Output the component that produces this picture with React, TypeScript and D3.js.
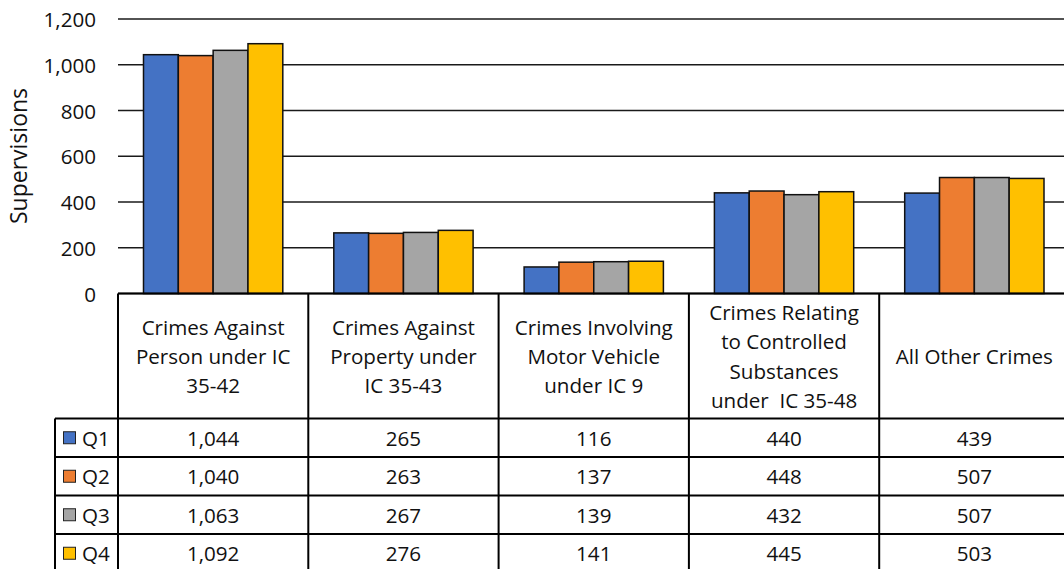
import React from "react";
import * as d3 from "d3";

const categories: string[][] = [
  ["Crimes Against", "Person under IC", "35-42"],
  ["Crimes Against", "Property under", "IC 35-43"],
  ["Crimes Involving", "Motor Vehicle", "under IC 9"],
  ["Crimes Relating", "to Controlled", "Substances", "under  IC 35-48"],
  ["All Other Crimes"],
];
const seriesNames = ["Q1", "Q2", "Q3", "Q4"];
const seriesColors = ["#4472C4", "#ED7D31", "#A5A5A5", "#FFC000"];
const q1 = [1044, 265, 116, 440, 439];
const q2 = [1040, 263, 137, 448, 507];
const q3 = [1063, 267, 139, 432, 507];
const q4 = [1092, 276, 141, 445, 503];
const seriesValues = [q1, q2, q3, q4];
const yTicks = [0, 200, 400, 600, 800, 1000, 1200];
const yTitle = "Supervisions";

const W = 1064;
const H = 569;
const FONT = "'Open Sans', Lato, sans-serif";
const FS = 20.6;
const TITLE_FS = 23;

export default function App() {
  const plotLeft = 118;
  const colW = 190.3;
  const y = d3.scaleLinear().domain([0, 1200]).range([293.5, 19]);
  const x0 = d3
    .scaleBand<number>()
    .domain(categories.map((_, i) => i))
    .range([plotLeft, plotLeft + colW * categories.length])
    .paddingInner(0)
    .paddingOuter(0);
  const groupPad = 25.5;
  const x1 = d3
    .scaleBand<number>()
    .domain(seriesNames.map((_, i) => i))
    .range([groupPad, x0.bandwidth() - groupPad])
    .padding(0);
  const fmt = d3.format(",");

  const headerTop = y(0);
  const headerBottom = 418.5;
  const rowH = 38.5;
  const legendLeft = 55;
  const lineH = 29.3;
  const tableRight = W + 10;

  return (
    <svg
      width={W}
      height={H}
      style={{ position: "absolute", left: 0, top: 0, display: "block", background: "#fff" }}
      fontFamily={FONT}
    >
      {/* gridlines */}
      {yTicks.map((t) => (
        <line key={"g" + t} x1={plotLeft} x2={W} y1={y(t)} y2={y(t)} stroke="#1a1a1a" strokeWidth={1.5} />
      ))}
      {/* tick labels */}
      {yTicks.map((t) => (
        <text key={"t" + t} x={96} y={y(t)} textAnchor="end" dominantBaseline="central" fontSize={FS} fill="#111">
          {fmt(t)}
        </text>
      ))}
      <text
        transform={`translate(18,156) rotate(-90)`}
        textAnchor="middle"
        dominantBaseline="central"
        fontSize={TITLE_FS}
        fill="#111"
      >
        {yTitle}
      </text>
      {/* bars */}
      {seriesValues.map((vals, s) =>
        vals.map((v, c) => (
          <rect
            key={`b${s}-${c}`}
            x={(x0(c) as number) + (x1(s) as number)}
            y={y(v)}
            width={x1.bandwidth()}
            height={y(0) - y(v)}
            fill={seriesColors[s]}
            stroke="#111"
            strokeWidth={1.5}
          />
        ))
      )}
      {/* table lines */}
      <line x1={plotLeft} x2={tableRight} y1={headerTop} y2={headerTop} stroke="#000" strokeWidth={2} />
      {categories.map((_, c) => (
        <line
          key={"v" + c}
          x1={x0(c) as number}
          x2={x0(c) as number}
          y1={headerTop}
          y2={H + 5}
          stroke="#000"
          strokeWidth={2}
        />
      ))}
      <line x1={legendLeft} x2={legendLeft} y1={headerBottom} y2={H + 5} stroke="#000" strokeWidth={2} />
      {seriesNames.map((_, s) => (
        <line
          key={"h" + s}
          x1={legendLeft}
          x2={tableRight}
          y1={headerBottom + s * rowH}
          y2={headerBottom + s * rowH}
          stroke="#000"
          strokeWidth={2}
        />
      ))}
      {/* header text */}
      {categories.map((lines, c) => {
        const cx = (x0(c) as number) + x0.bandwidth() / 2;
        const cy = (headerTop + headerBottom) / 2;
        const start = cy - ((lines.length - 1) * lineH) / 2;
        return lines.map((ln, i) => (
          <text
            key={`c${c}-${i}`}
            x={cx}
            y={start + i * lineH}
            textAnchor="middle"
            dominantBaseline="central"
            fontSize={FS}
            fill="#111"
            style={{ whiteSpace: "pre" }}
          >
            {ln}
          </text>
        ));
      })}
      {/* rows */}
      {seriesNames.map((name, s) => {
        const cy = headerBottom + s * rowH + rowH / 2;
        return (
          <g key={"r" + s}>
            <rect x={63.5} y={cy - 6} width={12} height={12} fill={seriesColors[s]} stroke="#222" strokeWidth={1} />
            <text x={82} y={cy} dominantBaseline="central" fontSize={FS} fill="#111">
              {name}
            </text>
            {seriesValues[s].map((v, c) => (
              <text
                key={`v${s}-${c}`}
                x={(x0(c) as number) + x0.bandwidth() / 2}
                y={cy}
                textAnchor="middle"
                dominantBaseline="central"
                fontSize={FS}
                fill="#111"
              >
                {fmt(v)}
              </text>
            ))}
          </g>
        );
      })}
    </svg>
  );
}
